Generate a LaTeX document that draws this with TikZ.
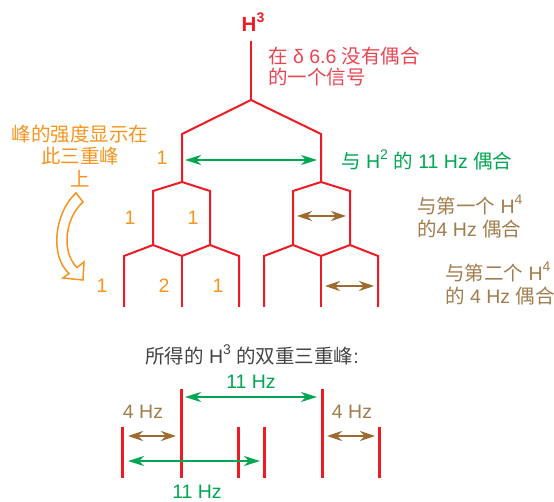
\documentclass[tikz,border=0pt]{standalone}
\usepackage{fontspec}
\setmainfont{Liberation Sans}
\newfontfamily\cjk{Noto Sans CJK SC}
\usetikzlibrary{arrows.meta}
\newcommand\zh[1]{{\cjk #1}}
\newcommand\sups[1]{\raisebox{0.42em}{\fontsize{14}{14}\selectfont #1}}
\definecolor{tred}{HTML}{ED1C24}
\definecolor{ttxtred}{HTML}{EC4552}
\definecolor{tgreen}{HTML}{00A651}
\definecolor{tbrown}{HTML}{9B6B32}
\definecolor{tbrowntxt}{HTML}{A27C4C}
\definecolor{torange}{HTML}{F7941D}
\definecolor{tgray}{HTML}{444444}
\tikzset{
  tree/.style={draw=tred, line width=2pt},
  peak/.style={draw=tred, line width=3pt},
  garrow/.style={draw=tgreen, line width=1.4pt, {Stealth[length=16pt,width=10pt,inset=5pt]}-{Stealth[length=16pt,width=10pt,inset=5pt]}},
  barrow/.style={draw=tbrown, line width=1.4pt, {Stealth[length=15pt,width=10pt,inset=5pt]}-{Stealth[length=15pt,width=10pt,inset=5pt]}},
  txt/.style={inner sep=0pt, font=\fontsize{19.5}{22}\selectfont},
  num/.style={txt, text=torange},
}
\begin{document}
\begin{tikzpicture}[x=1pt,y=-1pt]
\useasboundingbox (0,0) rectangle (554,502);
% tree coordinates
\coordinate (t0) at (251,41);
\coordinate (t1) at (251,100);
\coordinate (L) at (182,134);
\coordinate (R) at (321,134);
\coordinate (L1) at (182,182);
\coordinate (R1) at (321,182);
\coordinate (a) at (153,191);
\coordinate (b) at (210,191);
\coordinate (a1) at (153,245);
\coordinate (b1) at (210,245);
\coordinate (c1) at (124,256);
\coordinate (c2) at (182,256);
\coordinate (c3) at (239,256);
\coordinate (c1b) at (124,307);
\coordinate (c2b) at (182,307);
\coordinate (c3b) at (239,307);
\coordinate (d) at (293,191);
\coordinate (e) at (350,191);
\coordinate (d1) at (293,245);
\coordinate (e1) at (350,245);
\coordinate (f1) at (264,256);
\coordinate (f2) at (321,256);
\coordinate (f3) at (378,256);
\coordinate (f1b) at (264,307);
\coordinate (f2b) at (321,307);
\coordinate (f3b) at (378,307);
% tree
\draw[tree] (t0) -- (t1);
\draw[tree] (L1) -- (L) -- (t1) -- (R) -- (R1);
\draw[tree] (a1) -- (a) -- (L1) -- (b) -- (b1);
\draw[tree] (c1b) -- (c1) -- (a1) -- (c2) -- (b1) -- (c3) -- (c3b);
\draw[tree] (c2) -- (c2b);
\draw[tree] (d1) -- (d) -- (R1) -- (e) -- (e1);
\draw[tree] (f1b) -- (f1) -- (d1) -- (f2) -- (e1) -- (f3) -- (f3b);
\draw[tree] (f2) -- (f2b);
% labels
\node[txt, text=tred, font=\fontsize{20.5}{22}\selectfont\bfseries] (h3) at (253,22) {H\sups{3}};
\node[txt, text=ttxtred, anchor=west, align=left, font=\fontsize{19.5}{21}\selectfont] (sig) at (268,67) {\zh{在} δ 6.6 \zh{没有偶合}\\\zh{的一个信号}};
% green arrow in tree
\coordinate (g1) at (185,160);
\coordinate (g2) at (317,160);
\draw[garrow] (g1) -- (g2);
\node[txt, text=tgreen, anchor=west] (gl) at (341,160) {\zh{与} H\sups{2} \zh{的} 11 Hz \zh{偶合}};
% brown arrows in tree
\coordinate (b1s) at (297,216);
\coordinate (b1e) at (346,216);
\draw[barrow] (b1s) -- (b1e);
\coordinate (b2s) at (325,286);
\coordinate (b2e) at (374,286);
\draw[barrow] (b2s) -- (b2e);
\node[txt, text=tbrowntxt, anchor=west, align=left, font=\fontsize{19.5}{23}\selectfont] (bl1) at (417,216.5) {\zh{与第一个} H\sups{4}\\\zh{的}4 Hz \zh{偶合}};
\node[txt, text=tbrowntxt, anchor=west, align=left, font=\fontsize{19.5}{23}\selectfont] (bl2) at (445,283.5) {\zh{与第二个} H\sups{4}\\\zh{的} 4 Hz \zh{偶合}};
% intensities
\node[num] (n1) at (162,158) {1};
\node[num] (n2) at (130,218) {1};
\node[num] (n3) at (193,218) {1};
\node[num] (n4) at (102,286) {1};
\node[num] (n5) at (164,286) {2};
\node[num] (n6) at (218,286) {1};
\node[txt, text=torange, align=center, font=\fontsize{19.5}{22.5}\selectfont] (it) at (80,156) {\zh{峰的强度显示在}\\\zh{此三重峰}\\\zh{上}};
% curved hollow arrow
\draw[torange, line width=1.5pt, fill=white, line join=miter]
  (76,193) .. controls (55,212) and (49,255) .. (69,273.5)
  -- (63,278) -- (83,280) -- (84,262) -- (77,267.5)
  .. controls (61,252) and (65,218) .. (83,202) -- cycle;
% bottom part
\node[txt, text=tgray] (res) at (252,355) {\zh{所得的} H\sups{3} \zh{的双重三重峰}:};
\coordinate (p1t) at (122,427); \coordinate (p1b) at (122,478);
\coordinate (p2t) at (181,389); \coordinate (p2b) at (181,478);
\coordinate (p3t) at (238,427); \coordinate (p3b) at (238,478);
\coordinate (p4t) at (264,427); \coordinate (p4b) at (264,478);
\coordinate (p5t) at (322,389); \coordinate (p5b) at (322,478);
\coordinate (p6t) at (379,427); \coordinate (p6b) at (379,478);
\foreach \i in {1,...,6} { \draw[peak] (p\i t) -- (p\i b); }
\coordinate (q1) at (185,397); \coordinate (q2) at (317,397);
\draw[garrow] (q1) -- (q2);
\node[txt, text=tgreen] (l11a) at (251,382) {11 Hz};
\coordinate (q3) at (128,436); \coordinate (q4) at (176,436);
\draw[barrow] (q3) -- (q4);
\node[txt, text=tbrowntxt] (l4a) at (143,412) {4 Hz};
\coordinate (q5) at (327,436); \coordinate (q6) at (375,436);
\draw[barrow] (q5) -- (q6);
\node[txt, text=tbrowntxt] (l4b) at (352,412) {4 Hz};
\coordinate (q7) at (128,461); \coordinate (q8) at (260,461);
\draw[garrow] (q7) -- (q8);
\node[txt, text=tgreen] (l11b) at (197,491.5) {11 Hz};
\end{tikzpicture}
\end{document}
